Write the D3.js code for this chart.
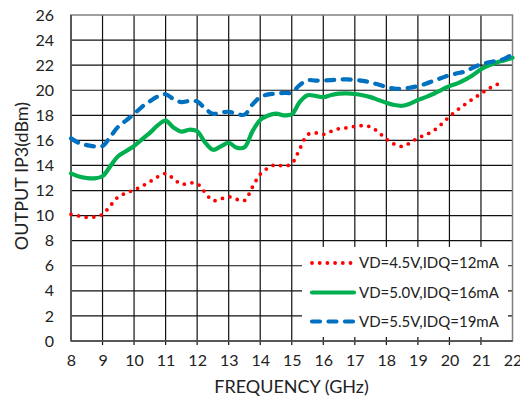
<!DOCTYPE html>
<html>
<head>
<meta charset="utf-8">
<script src="https://cdn.jsdelivr.net/npm/d3@7"></script>
<style>
  html, body { margin: 0; padding: 0; background: #fff; }
  svg { display: block; }
  text { font-family: Lato, "Open Sans", sans-serif; fill: #222; }
</style>
</head>
<body>
<svg id="chart" width="520" height="401"></svg>
<script>
// Frequency grid (GHz), sampled every 0.25 GHz
const frequency = d3.range(8, 22.001, 0.25);

// Output IP3 (dBm) per bias condition
const ip3_45V = [10.1, 9.97, 9.86, 9.9, 10.1, 10.8, 11.5, 11.8, 12.05, 12.35, 12.7, 13.1, 13.35,
  12.95, 12.5, 12.6, 12.55, 11.85, 11.2, 11.33, 11.5, 11.3, 11.2, 12.26, 13.3, 13.8, 14.06, 13.95,
  14.15, 15.3, 16.45, 16.6, 16.48, 16.72, 16.94, 17.0, 17.12, 17.17, 17.08, 16.65, 16.1, 15.7,
  15.52, 15.8, 16.2, 16.45, 16.78, 17.3, 17.9, 18.42, 18.88, 19.32, 19.73, 20.13, 20.46, 20.47, null];

const ip3_50V = [13.37, 13.12, 13.0, 12.97, 13.15, 13.95, 14.75, 15.15, 15.55, 16.08, 16.6, 17.2,
  17.57, 17.02, 16.7, 16.85, 16.72, 15.85, 15.25, 15.52, 15.81, 15.42, 15.45, 16.7, 17.62, 17.98,
  18.14, 18.0, 18.08, 19.05, 19.6, 19.55, 19.45, 19.62, 19.73, 19.75, 19.7, 19.6, 19.45, 19.22,
  19.0, 18.82, 18.76, 18.93, 19.22, 19.45, 19.72, 20.03, 20.33, 20.55, 20.85, 21.22, 21.67, 21.98,
  22.22, 22.4, 22.6];

const ip3_55V = [16.16, 15.8, 15.62, 15.52, 15.55, 16.3, 17.1, 17.6, 18.1, 18.68, 19.12, 19.5,
  19.68, 19.3, 19.05, 19.15, 19.1, 18.55, 18.12, 18.22, 18.28, 18.12, 18.05, 18.85, 19.45, 19.67,
  19.73, 19.78, 19.82, 20.41, 20.8, 20.77, 20.78, 20.81, 20.85, 20.87, 20.82, 20.75, 20.62, 20.45,
  20.26, 20.13, 20.12, 20.2, 20.33, 20.52, 20.75, 20.98, 21.2, 21.35, 21.5, 21.8, 22.07, 22.23,
  22.36, 22.52, 22.88];

const seriesNames = ["VD=4.5V,IDQ=12mA", "VD=5.0V,IDQ=16mA", "VD=5.5V,IDQ=19mA"];
const xTicks = d3.range(8, 23, 1);
const yTicks = d3.range(0, 27, 2);

const series = [
  { name: seriesNames[0], values: ip3_45V, color: "#ff0000", style: "dot" },
  { name: seriesNames[1], values: ip3_50V, color: "#00b050", style: "solid" },
  { name: seriesNames[2], values: ip3_55V, color: "#0070c0", style: "dash" }
];

const svg = d3.select("#chart");
const plot = { left: 71, right: 512.5, top: 15, bottom: 341 };

const x = d3.scaleLinear().domain([8, 22]).range([plot.left, plot.right]);
const y = d3.scaleLinear().domain([0, 26]).range([plot.bottom, plot.top]);

// Grid lines
const grid = svg.append("g");
grid.selectAll("line.v").data(xTicks.slice(1, -1)).join("line")
  .attr("x1", d => x(d)).attr("x2", d => x(d))
  .attr("y1", plot.top).attr("y2", plot.bottom + 4)
  .attr("stroke", "#111").attr("stroke-width", 1.2);
grid.selectAll("line.h").data(yTicks.slice(1, -1)).join("line")
  .attr("x1", plot.left).attr("x2", plot.right)
  .attr("y1", d => y(d)).attr("y2", d => y(d))
  .attr("stroke", "#111").attr("stroke-width", 1.2);

// Plot frame
svg.append("rect")
  .attr("x", plot.left).attr("y", plot.top)
  .attr("width", plot.right - plot.left).attr("height", plot.bottom - plot.top)
  .attr("fill", "none").attr("stroke", "#808080").attr("stroke-width", 1.5);
svg.append("line").attr("x1", plot.left).attr("x2", plot.left)
  .attr("y1", plot.top).attr("y2", plot.bottom)
  .attr("stroke", "#404040").attr("stroke-width", 1.5);
svg.append("line").attr("x1", plot.left).attr("x2", plot.right)
  .attr("y1", plot.bottom).attr("y2", plot.bottom)
  .attr("stroke", "#404040").attr("stroke-width", 1.5);

// Axis tick labels
const xAxis = d3.axisBottom(x).tickValues(xTicks).tickFormat(d3.format("d")).tickSize(0).tickPadding(14);
const gx = svg.append("g").attr("transform", `translate(0,${plot.bottom})`).call(xAxis);
gx.select(".domain").remove();
gx.selectAll("text").attr("font-size", 16).style("font-family", "Lato, sans-serif").attr("fill", "#222");

const yAxis = d3.axisLeft(y).tickValues(yTicks).tickFormat(d3.format("d")).tickSize(0).tickPadding(17);
const gy = svg.append("g").attr("transform", `translate(${plot.left},0)`).call(yAxis);
gy.select(".domain").remove();
gy.selectAll("text").attr("font-size", 16).style("font-family", "Lato, sans-serif").attr("fill", "#222");

// Axis titles
svg.append("text").attr("x", 291.5).attr("y", 393)
  .attr("text-anchor", "middle").attr("font-size", 18).text("FREQUENCY (GHz)");
svg.append("text").attr("transform", "translate(28,176) rotate(-90)")
  .attr("text-anchor", "middle").attr("font-size", 18).text("OUTPUT IP3(dBm)");

// Series lines
const line = d3.line()
  .defined(d => d[1] != null)
  .x(d => x(d[0])).y(d => y(d[1]))
  .curve(d3.curveCatmullRom.alpha(0.5));

function styleLine(sel, s) {
  sel.attr("fill", "none").attr("stroke", s.color);
  if (s.style === "dot") {
    sel.attr("stroke-width", 3.8).attr("stroke-linecap", "round").attr("stroke-dasharray", "0 7.7");
  } else if (s.style === "dash") {
    sel.attr("stroke-width", 4.2).attr("stroke-linecap", "round").attr("stroke-dasharray", "8 8.5");
  } else {
    sel.attr("stroke-width", 4.2).attr("stroke-linecap", "round");
  }
  return sel;
}

series.forEach(s => {
  const pts = frequency.map((f, i) => [f, s.values[i] === undefined ? null : s.values[i]]);
  svg.append("path").datum(pts).attr("d", line).call(styleLine, s);
});

// Legend
const lg = svg.append("g");
lg.append("rect").attr("x", 302).attr("y", 247).attr("width", 206).attr("height", 90)
  .attr("fill", "#fff");
const rowY = [263, 292.5, 321.5];
series.forEach((s, i) => {
  lg.append("path").datum([[0, 0], [1, 0]])
    .attr("d", d3.line().x(d => 312 + d[0] * 42).y(() => rowY[i]))
    .call(styleLine, s);
  lg.append("text").attr("x", 359).attr("y", rowY[i]).attr("dy", "0.35em")
    .attr("font-size", 15).text(s.name);
});
</script>
</body>
</html>
